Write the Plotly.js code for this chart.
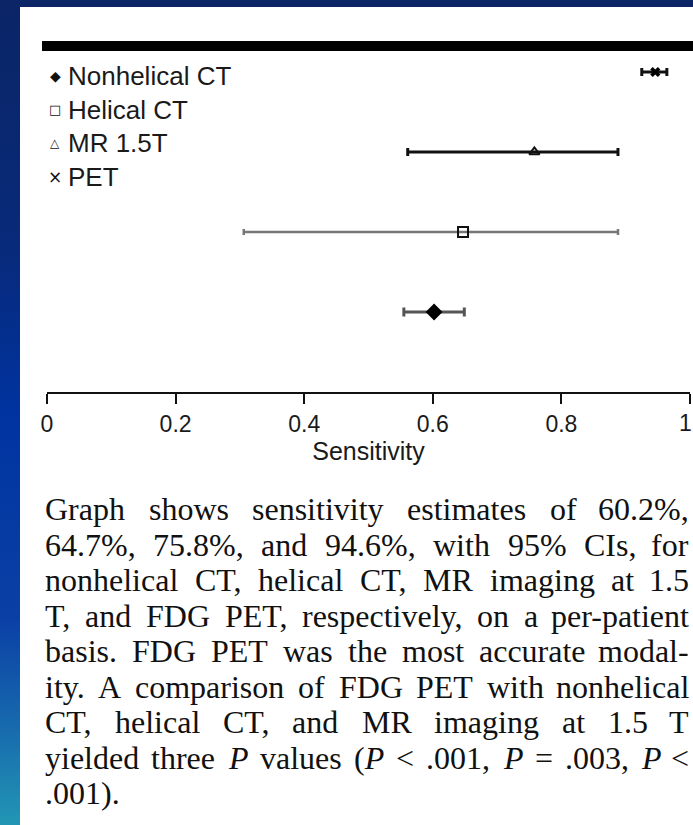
<!DOCTYPE html>
<html>
<head>
<meta charset="utf-8">
<script src="https://cdn.plot.ly/plotly-3.0.1.min.js"></script>
<style>
html,body{margin:0;padding:0;width:693px;height:825px;overflow:hidden;
background:linear-gradient(180deg,#0b2566 0%,#082a7a 30%,#0033a0 50%,#0a40a6 75%,#1666ad 87%,#2296b4 100%);}
#chart{position:absolute;left:20px;top:7px;width:673px;height:818px;background:#fff;}
</style>
</head>
<body>
<div id="chart"></div>
<script>
// ---- data ----
const categories = ['Nonhelical CT', 'Helical CT', 'MR 1.5T', 'PET'];
const estimates  = [0.602, 0.647, 0.758, 0.946];
const ciLower    = [0.555, 0.306, 0.561, 0.925];
const ciUpper    = [0.649, 0.888, 0.888, 0.964];
const legendGlyphs = ['\u25C6', '\u25A1', '\u25B3', '\u00D7'];
const xTickVals  = [0, 0.2, 0.4, 0.6, 0.8, 1];
const xTickText  = ['0', '0.2', '0.4', '0.6', '0.8', '1'];
const captionLines = [
  'Graph shows sensitivity estimates of 60.2%,',
  '64.7%, 75.8%, and 94.6%, with 95% CIs, for',
  'nonhelical CT, helical CT, MR imaging at 1.5',
  'T, and FDG PET, respectively, on a per-patient',
  'basis. FDG PET was the most accurate modal-',
  'ity. A comparison of FDG PET with nonhelical',
  'CT, helical CT, and MR imaging at 1.5 T',
  'yielded three *P* values (*P* < .001, *P* = .003, *P* <',
  '.001).'
];

// ---- styles ----
const markerStyles = [
  {symbol:'diamond', size:13, color:'#000', line:{width:0}},
  {symbol:'square-open', size:10, color:'#111', line:{width:2}},
  {symbol:'triangle-up-open', size:9, color:'#111', line:{width:2}},
  {symbol:'x', size:9, color:'#000', line:{width:0}}
];
const errStyles = [
  {color:'#555', thickness:3, width:4.5},
  {color:'#777', thickness:2.5, width:3},
  {color:'#111', thickness:3, width:4},
  {color:'#111', thickness:3, width:4}
];
const glyphSizes = [14, 13, 12, 17];
const tickFont = {family:'Liberation Sans', size:23, color:'#1a1a1a'};

const traces = categories.map((c,i)=>({
  type:'scatter', mode:'markers', name:c,
  x:[estimates[i]], y:[c],
  marker:markerStyles[i],
  error_x:{type:'data', symmetric:false,
    array:[ciUpper[i]-estimates[i]], arrayminus:[estimates[i]-ciLower[i]],
    color:errStyles[i].color, thickness:errStyles[i].thickness, width:errStyles[i].width},
  showlegend:false, hoverinfo:'skip'
}));

// geometry of plot (div coords)
const W = 673, H = 818, mL = 27, mR = 3, mT = 39, mB = 433;
const pw = W - mL - mR, ph = H - mT - mB;
const pageToPaperX = px => (px - 20 - mL) / pw;
const pageToPaperY = py => (H - mB - (py - 7)) / ph;

const annotations = [];

// last tick label kept inside the page edge
const lastIdx = xTickText.length - 1;
const shownTickText = xTickText.map((t,i)=> i===lastIdx ? '' : t);
annotations.push({text:xTickText[lastIdx], showarrow:false, xref:'paper', yref:'paper',
  x:pageToPaperX(693), y:pageToPaperY(423), xanchor:'right', yanchor:'middle', borderpad:0,
  font:tickFont});

// legend (drawn as text)
const legTop = 76, legStep = 33.7;
categories.forEach((c,i)=>{
  const y = pageToPaperY(legTop + i*legStep);
  annotations.push({text:legendGlyphs[i], showarrow:false, xref:'paper', yref:'paper',
    x:pageToPaperX(55), y:y, xanchor:'center', yanchor:'middle', borderpad:0,
    font:{family:'DejaVu Sans', size:glyphSizes[i], color:'#111'}});
  annotations.push({text:c, showarrow:false, xref:'paper', yref:'paper',
    x:pageToPaperX(67), y:y, xanchor:'left', yanchor:'middle', borderpad:0,
    font:{family:'Liberation Sans', size:26, color:'#1a1a1a'}});
});

// caption layout (justified word placement)
const capFont = 32;
const capFamily = 'Liberation Serif';
const cv = document.createElement('canvas').getContext('2d');
function measure(t, italic){
  cv.font = (italic?'italic ':'') + capFont + "px '" + capFamily + "'";
  return cv.measureText(t).width;
}
function wordWidth(w){
  let total = 0; const parts = w.split('*');
  parts.forEach((p,k)=>{ if(p) total += measure(p, k%2===1); });
  return total;
}
function toHtml(w){
  return w.replace(/</g,'&lt;').replace(/\*([^*]+)\*/g,'<i>$1</i>');
}
const capLeft = 44, capRight = 690, capTop = 509, capStep = 35.5;
captionLines.forEach((line, li)=>{
  const words = line.split(' ');
  const widths = words.map(wordWidth);
  const yPaper = pageToPaperY(capTop + li*capStep);
  const last = li === captionLines.length - 1;
  const sum = widths.reduce((a,b)=>a+b,0);
  const space = measure(' ', false);
  let gap = last || words.length < 2 ? space : Math.max(3,(capRight - capLeft - sum)/(words.length-1));
  let x = capLeft;
  words.forEach((w,k)=>{
    const isEnd = !last && k === words.length-1 && words.length>1;
    annotations.push({
      text: toHtml(w), showarrow:false, xref:'paper', yref:'paper',
      x: pageToPaperX(isEnd ? capRight : x), y: yPaper,
      xanchor: isEnd ? 'right':'left', yanchor:'middle', borderpad:0,
      font:{family:capFamily, size:capFont, color:'#111'}
    });
    x += widths[k] + gap;
  });
});

const layout = {
  width: W, height: H,
  margin:{l:mL, r:mR, t:mT, b:mB, pad:0},
  paper_bgcolor:'#fff', plot_bgcolor:'#fff',
  showlegend:false,
  xaxis:{range:[0,1], tickvals:xTickVals, ticktext:shownTickText,
    showline:true, linecolor:'#111', linewidth:2, ticks:'outside', ticklen:10, tickwidth:2, tickcolor:'#111',
    showgrid:false, zeroline:false, fixedrange:true,
    tickfont:tickFont,
    title:{text:'Sensitivity', font:{family:'Liberation Sans', size:25, color:'#1a1a1a'}, standoff:0}},
  yaxis:{type:'category', categoryorder:'array', categoryarray:categories,
    range:[-1, 3.325], visible:false, showgrid:false, zeroline:false, fixedrange:true},
  shapes:[{type:'rect', xref:'paper', yref:'paper',
    x0:pageToPaperX(42), x1:pageToPaperX(695), y0:pageToPaperY(51), y1:pageToPaperY(41),
    fillcolor:'#000', line:{width:0}}],
  annotations: annotations
};

Plotly.newPlot('chart', traces, layout, {displayModeBar:false, staticPlot:true});
</script>
</body>
</html>
